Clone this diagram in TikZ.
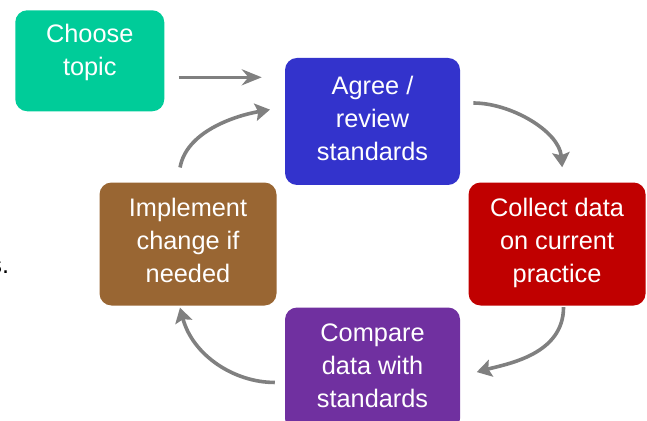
\documentclass[tikz,border=0pt]{standalone}
\usepackage{fontspec}
\setmainfont{Liberation Sans}
\usetikzlibrary{positioning,arrows.meta}
\definecolor{topicgreen}{HTML}{00CC99}
\definecolor{agreeblue}{HTML}{3333CC}
\definecolor{collectred}{HTML}{C00000}
\definecolor{implbrown}{HTML}{996633}
\definecolor{comparepurple}{HTML}{7030A0}
\definecolor{arrowgray}{HTML}{808080}
\begin{document}
\begin{tikzpicture}[
    box/.style={rounded corners=9pt, text=white, align=center, inner sep=0pt, text depth=5pt,
      font=\fontsize{19}{24.75}\selectfont},
    arr/.style={draw=arrowgray, line width=2.7pt, -{Stealth[length=11pt, width=13pt, inset=2pt]}}]
    \useasboundingbox (0,0) rectangle (485.25pt,-315.75pt);
    \clip (0,0) rectangle (485.25pt,-315.75pt);

    \node[box, fill=agreeblue, minimum width=131.25pt, minimum height=95.25pt]
    (A) at (279.4pt,-91.1pt) {Agree /\\review\\standards};
    \node[box, fill=collectred, minimum width=132.75pt, minimum height=92.25pt, below right=-2.25pt and 6pt of A]
    (D) {Collect data\\on current\\practice};
    \node[box, fill=implbrown, minimum width=132.75pt, minimum height=92.25pt, below left=-2.25pt and 6pt of A]
    (I) {Implement\\change if\\needed};
    \node[box, fill=comparepurple, minimum width=131.25pt, minimum height=92.25pt, below=91.5pt of A]
    (P) {Compare\\data with\\standards};
    \node[box, fill=topicgreen, minimum width=111.75pt, minimum height=75.75pt, text depth=17pt, anchor=north west]
    (T) at (11.25pt,-7.5pt) {Choose\\topic};

    \draw[arr, -{Stealth[length=15pt, width=12pt, inset=5pt]}, shorten <=10.5pt, shorten >=17.25pt]
    ([yshift=-12.4pt]T.east) -- ([yshift=-12.4pt]T.east -| A.west);

    \draw[arr, shorten <=11.25pt, shorten >=11.25pt] ([xshift=-7.9pt]I.north) to[out=80, in=190] ([yshift=10.85pt]A.west);
    \draw[arr, shorten <=9.75pt, shorten >=11.25pt] ([yshift=13.85pt]A.east) to[out=0, in=95] ([xshift=4.85pt]D.north);
    \draw[arr, shorten <=1pt, shorten >=12.75pt] ([xshift=4.85pt]D.south) to[out=-90, in=15] ([yshift=-5.6pt]P.east);
    \draw[arr, shorten <=7.5pt, shorten >=1.5pt] ([yshift=-10.1pt]P.west) to[out=180, in=-75] ([xshift=-6.4pt]I.south);

    \node[anchor=base east, inner sep=0pt, font=\fontsize{19}{24.75}\selectfont]
    (S) at (7pt,-204.75pt) {s.};
  \end{tikzpicture}
\end{document}
